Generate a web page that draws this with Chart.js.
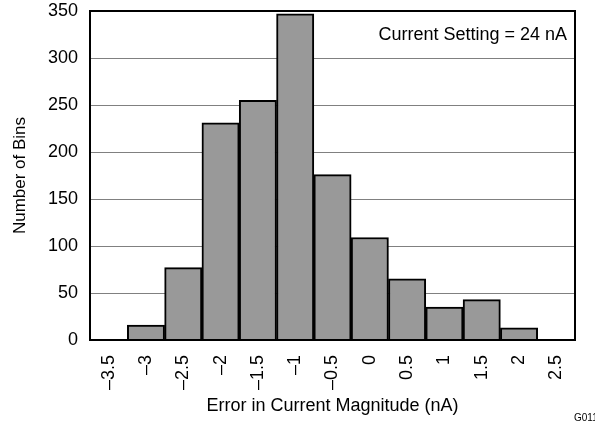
<!DOCTYPE html>
<html><head><meta charset="utf-8">
<script src="https://cdn.jsdelivr.net/npm/chart.js@4"></script>
<style>html,body{margin:0;padding:0;background:#fff}#w{width:595px;height:424px}</style>
</head><body><div id="w"><canvas id="c"></canvas></div>
<script>
const categories = ["–3.5","–3","–2.5","–2","–1.5","–1","–0.5","0","0.5","1","1.5","2","2.5"];
const binCounts = [0,16,77,231,255,347,176,109,65,35,43,13,0];
const yTicks = [0,50,100,150,200,250,300,350];
const annotationText = "Current Setting = 24 nA";
const figureId = "G011";

const F = "'Liberation Sans', Arial, sans-serif";
const frame = {
  id: 'frame',
  afterDatasetsDraw(chart){
    const {ctx, chartArea:a} = chart;
    ctx.save();
    ctx.strokeStyle = '#000'; ctx.lineWidth = 2;
    ctx.strokeRect(a.left, a.top, a.right-a.left, a.bottom-a.top);
    ctx.fillStyle = '#000';
    ctx.font = "18px " + F;
    ctx.textAlign = 'right'; ctx.textBaseline = 'middle';
    ctx.fillText(annotationText, a.right-8, a.top+24);
    ctx.font = "10px " + F;
    ctx.textAlign = 'left';
    ctx.fillText(figureId, 574, 418);
    ctx.restore();
  }
};
new Chart(document.getElementById('c'), {
  type: 'bar',
  data: { labels: categories, datasets: [{ data: binCounts, backgroundColor: '#999999', borderColor: '#000', borderWidth: 2, categoryPercentage: 1, barPercentage: 1 }] },
  options: {
    responsive: true, maintainAspectRatio: false, animation: false,
    layout: { padding: { left: 0, right: 20, top: 11, bottom: 0 } },
    plugins: { legend: { display: false }, tooltip: { enabled: false } },
    scales: {
      x: {
        afterFit(s){ s.height = 84; s.paddingLeft = 0; s.paddingRight = 0; },
        grid: { display: false, drawTicks: false },
        border: { display: false },
        ticks: { color: '#000', font: { family: F, size: 18 }, minRotation: 90, maxRotation: 90, padding: 15, autoSkip: false },
        title: { display: true, text: 'Error in Current Magnitude (nA)', color: '#000', font: { family: F, size: 18 }, padding: { top: 0, bottom: 7 } }
      },
      y: {
        min: 0, max: 350,
        afterFit(s){ s.width = 90; s.paddingTop = 0; s.paddingBottom = 0; },
        afterBuildTicks(s){ s.ticks = yTicks.map(v => ({ value: v })); },
        grid: { color: '#808080', lineWidth: 1, drawTicks: false },
        border: { display: false },
        ticks: { color: '#000', font: { family: F, size: 18 }, padding: 12 },
        title: { display: true, text: 'Number of Bins', color: '#000', font: { family: F, size: 17 }, padding: { top: 10, bottom: 0 } }
      }
    }
  },
  plugins: [frame]
});
</script></body></html>
